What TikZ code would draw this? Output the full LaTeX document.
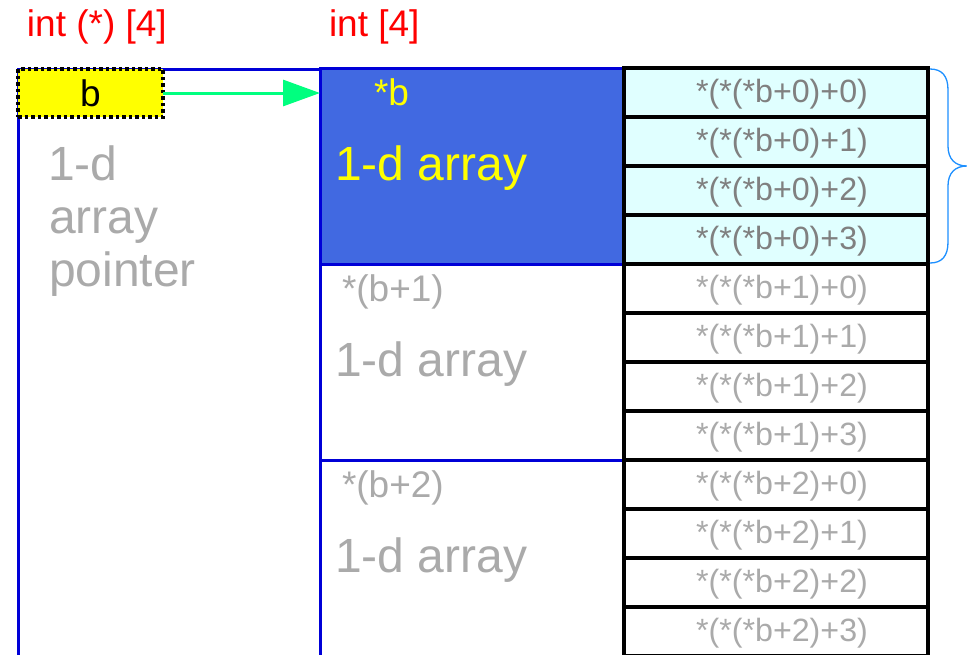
\documentclass[tikz,border=0pt]{standalone}
\usepackage{fontspec}
\setmainfont{Liberation Sans}
\usetikzlibrary{arrows.meta}
\definecolor{myred}{RGB}{255,0,0}
\definecolor{bordblue}{RGB}{0,0,215}
\definecolor{royal}{RGB}{65,105,225}
\definecolor{ptryellow}{RGB}{255,255,0}
\definecolor{arrowgreen}{RGB}{0,255,127}
\definecolor{lcyan}{RGB}{224,255,255}
\definecolor{darkgraytxt}{RGB}{128,128,128}
\definecolor{lightgraytxt}{RGB}{170,170,170}
\definecolor{bracecol}{RGB}{30,144,255}
\begin{document}
\begin{tikzpicture}[x=1pt,y=-1pt,
  box/.style={rectangle, inner sep=0pt, outer sep=0pt, anchor=north west},
  rowbox/.style={box, draw=bordblue, line width=3pt, minimum width=303pt, minimum height=196pt},
  cellbox/.style={box, draw=black, line width=3.5pt, minimum width=304pt, minimum height=49pt},
  celltxt/.style={inner sep=0pt, outer sep=0pt, font=\fontsize{32.2}{36}\selectfont, xshift=6pt, yshift=-2pt},
  lbl/.style={anchor=base west, inner sep=0pt, outer sep=0pt},
  bigtxt/.style={lbl, font=\fontsize{48}{53}\selectfont},
  midtxt/.style={lbl, font=\fontsize{37}{40}\selectfont}
]
\clip (0,0) rectangle (967,654);
\fill[white] (0,0) rectangle (967,654);

% outer pointer box
\node[box, draw=bordblue, line width=3pt, minimum width=302pt, minimum height=640pt] (outer) at (18,69) {};

% middle rows
\node[rowbox, fill=royal] (r1) at (320,68) {};
\node[rowbox, fill=white] (r2) at (320,264) {};
\node[rowbox, fill=white] (r3) at (320,460) {};

% cells
\foreach \i/\a/\bb in {1/0/0,2/0/1,3/0/2,4/0/3}{
  \node[cellbox, fill=lcyan] (c\i) at (624,{68+49*(\i-1)}) {};
  \node[celltxt, text=darkgraytxt] (ct\i) at (c\i.center) {*(*(*b+\a)+\bb)};
}
\foreach \i/\a/\bb in {5/1/0,6/1/1,7/1/2,8/1/3,9/2/0,10/2/1,11/2/2,12/2/3}{
  \node[cellbox, fill=white] (c\i) at (624,{68+49*(\i-1)}) {};
  \node[celltxt, text=lightgraytxt] (ct\i) at (c\i.center) {*(*(*b+\a)+\bb)};
}

% yellow pointer b
\node[box, fill=ptryellow, draw=black, line width=3.5pt, dash pattern=on 3.5pt off 3pt,
      minimum width=145pt, minimum height=48pt, font=\fontsize{37}{40}\selectfont] (b) at (18,69) {b};

% arrow
\draw[arrowgreen, line width=3pt, -{Triangle[length=37pt,width=26pt]}] (b.east) -- (b.east -| r1.west);

% labels
\node[midtxt, text=myred] (t1) at (27,36) {int (*) [4]};
\node[midtxt, text=myred] (t2) at (329,36) {int [4]};

\node[bigtxt, text=lightgraytxt] (p1) at (48,180) {1-d};
\node[bigtxt, text=lightgraytxt] (p2) at (49,233) {array};
\node[bigtxt, text=lightgraytxt] (p3) at (49,286) {pointer};

\node[lbl, text=ptryellow, font=\fontsize{37}{40}\selectfont] (s1) at (374,105) {*b};
\node[bigtxt, text=ptryellow] (a1) at (335,180) {1-d array};
\node[midtxt, text=lightgraytxt] (s2) at (342,301) {*(b+1)};
\node[bigtxt, text=lightgraytxt] (a2) at (335,376) {1-d array};
\node[midtxt, text=lightgraytxt] (s3) at (342,497) {*(b+2)};
\node[bigtxt, text=lightgraytxt] (a3) at (335,572) {1-d array};

% brace
\draw[bracecol, line width=1.3pt]
  (930,69) .. controls (942,69) and (948,76) .. (948,90)
  -- (948,146) .. controls (948,159) and (955,166) .. (967,166)
  .. controls (955,166) and (948,173) .. (948,186)
  -- (948,242) .. controls (948,256) and (942,263) .. (930,263);
\end{tikzpicture}
\end{document}
